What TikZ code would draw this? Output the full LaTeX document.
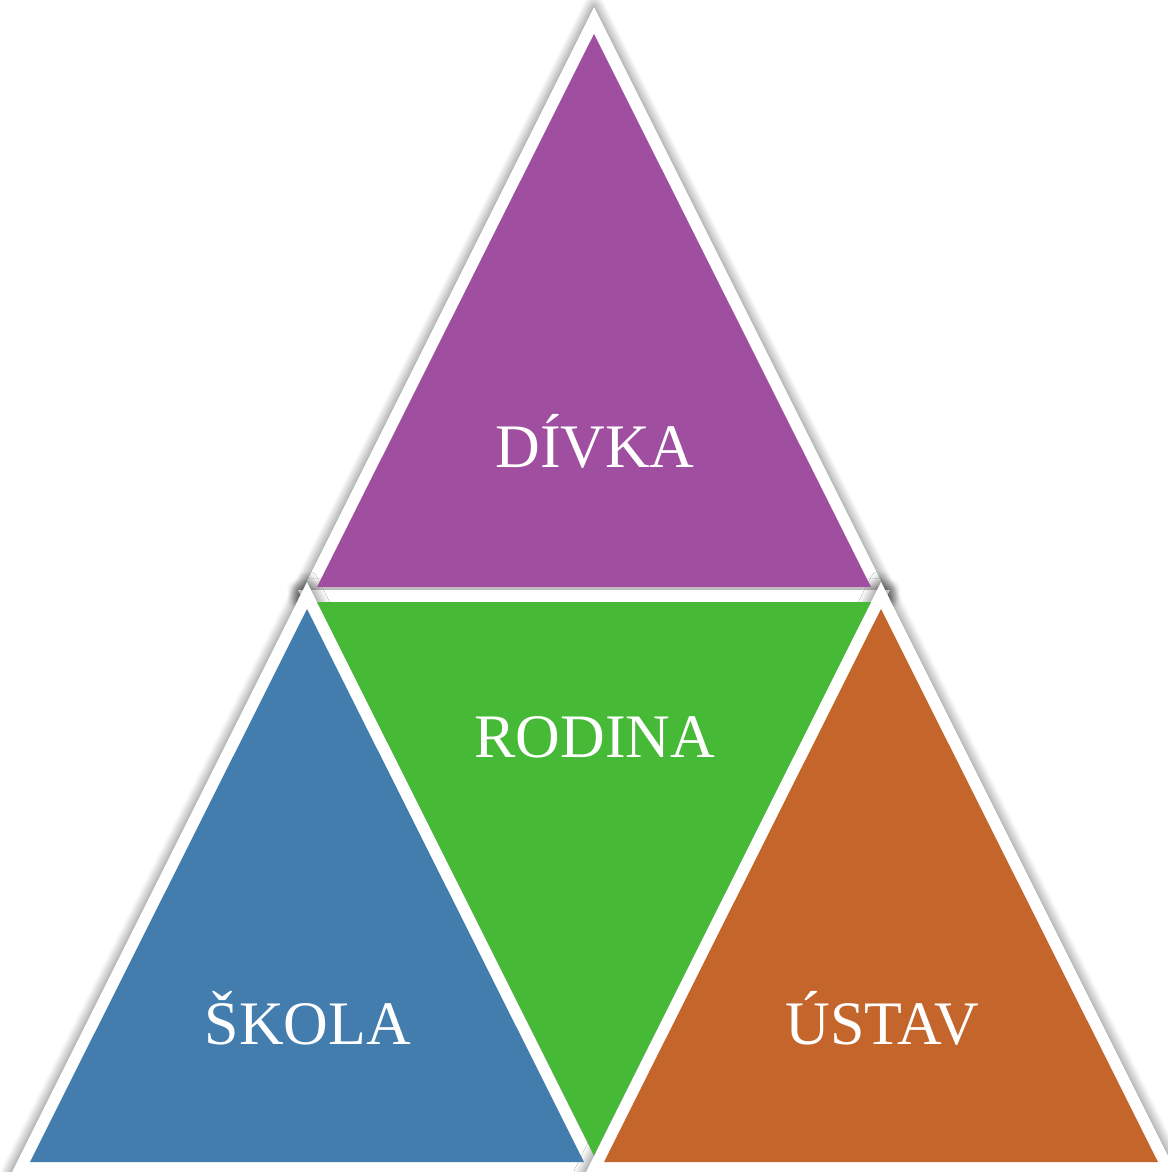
\documentclass[tikz,border=0pt]{standalone}
\usepackage{fontspec}
\setmainfont{Liberation Serif}
\usetikzlibrary{shadows.blur}
\definecolor{divkapurple}{RGB}{160,78,160}
\definecolor{rodinagreen}{RGB}{70,185,54}
\definecolor{skolablue}{RGB}{66,125,174}
\definecolor{ustavorange}{RGB}{196,102,44}
\tikzset{
	triframe/.style={
		fill=white,
		blur shadow={shadow xshift=0pt,shadow yshift=0pt,shadow blur radius=8pt,shadow blur steps=12,shadow opacity=60},
	},
	tritext/.style={
		text=white,
		anchor=base,
		font=\fontsize{44}{48}\selectfont,
	},
}
\begin{document}
\begin{tikzpicture}[x=0.025cm,y=-0.025cm]
	\useasboundingbox (0,0) rectangle (1168,1172);
	% white frames with glow
	\foreach \cx/\cy/\rot in {594/416/0,594/773/180,307/991/0,881/991/0} {
		\begin{scope}[shift={(\cx,\cy)},rotate=\rot]
			\fill[triframe] (0,-409) -- (296,183) -- (-296,183) -- cycle;
		\end{scope}
	}
	% coloured triangles
	\foreach \cx/\cy/\rot/\col in {594/416/0/divkapurple,594/773/180/rodinagreen,307/991/0/skolablue,881/991/0/ustavorange} {
		\begin{scope}[shift={(\cx,\cy)},rotate=\rot]
			\fill[\col] (0,-382) -- (277,171) -- (-277,171) -- cycle;
		\end{scope}
	}
	\node[tritext] (divka)  at (595,467)  {DÍVKA};
	\node[tritext] (rodina) at (595,757)  {RODINA};
	\node[tritext] (skola)  at (308,1044) {ŠKOLA};
	\node[tritext] (ustav)  at (882,1044) {ÚSTAV};
\end{tikzpicture}
\end{document}
